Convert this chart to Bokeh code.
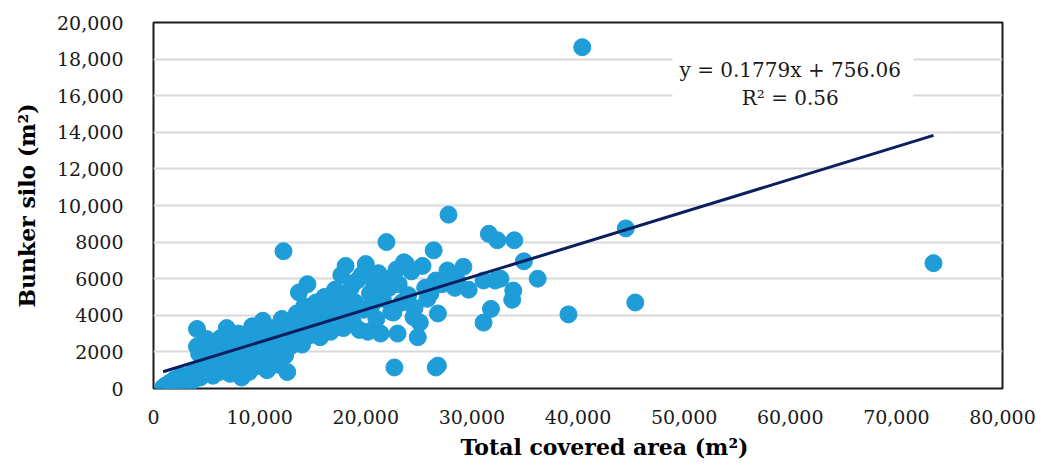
from bokeh.plotting import figure
from bokeh.models import Range1d, FixedTicker, Label, BoxAnnotation, Title
from bokeh.embed import file_html
from bokeh.resources import INLINE

# ---- data ----
total_area = [
    900, 1100, 1500, 1800, 2000, 2300, 2600, 2900, 3100, 3300, 3500, 3700, 3900, 4100, 4100,
    4300, 4400, 4600, 4800, 5000, 5000,
    5200, 5400, 5600, 5800, 6000, 6200, 6300, 6500, 6700, 6900, 7000, 7200, 7400, 7600, 7800,
    8000, 8100, 8300, 8500, 8600, 8800, 9000, 9100, 9300, 9400, 9600, 9800, 9900, 10000,
    10300, 10400, 10500, 10700, 10900, 11100, 11300, 11500, 11700, 11900, 12100, 12250, 12400,
    12600, 12700, 12900, 13100, 13300, 13500, 13700, 13800, 14000, 14200, 14400, 14500, 14700,
    14900, 15100, 15300, 15500, 15700, 15900,
    16100, 16300, 16500, 16700, 16900, 17100, 17300, 17500, 17700, 17900, 18100, 18200, 18400,
    18600, 18800, 19000, 19200, 19400, 19600, 19800, 20000, 20200, 20400, 20600, 20800, 21000,
    21200, 21400, 21600, 21800, 21950,
    22200, 22400, 22600, 22700, 22900, 23000, 23100, 23400, 23600, 23800, 24000, 24300, 24500,
    24600, 24900, 25100, 25350, 25600, 25800, 26100, 26400, 26600, 26600, 26800, 26800, 27200,
    27700, 27800, 28400, 28600, 29200, 29700,
    31100, 31100, 31600, 31800, 32200, 32400, 32700, 33800, 33900, 34000, 34900, 36200, 39100,
    40400, 44500, 45400, 73500,
]
bunker_silo = [
    50, 150, 300, 100, 500, 350, 700, 250, 550, 150, 800, 450, 1000, 3250, 2300,
    1900, 600, 1300, 900, 2700, 1600,
    1100, 2000, 700, 1400, 2300, 900, 2750, 1700, 1200, 3300, 2000, 800, 1500, 2500, 1000,
    3000, 1800, 600, 2200, 1300, 2800, 900, 1600, 3400, 2100, 1200, 2600, 1800, 3100,
    3700, 1400, 2300, 1000, 2900, 1700, 3300, 2100, 1300, 2600, 3800, 7500, 1800,
    900, 3000, 2300, 3500, 2600, 4100, 5250, 3200, 2400, 4500, 3600, 5700, 2900,
    4000, 3300, 4700, 3700, 2800, 4300,
    5000, 3500, 4100, 3100, 4700, 5400, 3800, 4400, 6200, 3300, 6700, 5000, 4100,
    5500, 3600, 4700, 5900, 3200, 6200, 4300, 6800, 3100, 5200, 4600, 5700, 3800,
    6300, 3000, 4900, 6000, 8000,
    5500, 4200, 4150, 1150, 6500, 3000, 5700, 4700, 6900, 6800, 5100, 6400, 3900,
    4400, 2800, 3600, 6700, 5500, 4900, 5200, 7550, 5900, 1150, 4100, 1250, 5700,
    6450, 9500, 5500, 5900, 6650, 5400,
    5900, 3600, 8450, 4350, 5900, 8100, 6000, 4850, 5350, 8100, 6950, 6000, 4050,
    18650, 8750, 4700, 6850,
]

x_ticks = [0, 10000, 20000, 30000, 40000, 50000, 60000, 70000, 80000]
x_tick_labels = ["0", "10,000", "20,000", "30,000", "40,000", "50,000", "60,000", "70,000", "80,000"]
y_ticks = [0, 2000, 4000, 6000, 8000, 10000, 12000, 14000, 16000, 18000, 20000]
y_tick_labels = ["0", "2000", "4000", "6000", "8000", "10,000", "12,000", "14,000", "16,000", "18,000", "20,000"]

slope = 0.1779
intercept = 756.06
r_squared = 0.56

x_title = "Total covered area (m²)"
y_title = "Bunker silo (m²)"

# ---- figure ----
FONT = "DejaVu Serif"
p = figure(width=1053, height=466, output_backend="svg", toolbar_location=None,
           x_range=Range1d(0, 80000), y_range=Range1d(0, 20000),
           min_border_left=153, min_border_right=51, min_border_top=22, min_border_bottom=78)
p.background_fill_color = "white"
p.border_fill_color = "white"
p.outline_line_color = "#1a1a1a"
p.outline_line_width = 2

# grid
p.xgrid.grid_line_color = None
p.ygrid.grid_line_color = "#d9d9d9"
p.ygrid.grid_line_width = 2
p.ygrid.ticker = FixedTicker(ticks=y_ticks)

# axes
p.xaxis.ticker = FixedTicker(ticks=x_ticks)
p.yaxis.ticker = FixedTicker(ticks=y_ticks)
p.xaxis.major_label_overrides = {t: l for t, l in zip(x_ticks, x_tick_labels)}
p.yaxis.major_label_overrides = {t: l for t, l in zip(y_ticks, y_tick_labels)}
for ax in (p.xaxis, p.yaxis):
    ax.axis_line_color = None
    ax.major_tick_line_color = None
    ax.minor_tick_line_color = None
    ax.major_label_text_font = FONT
    ax.major_label_text_font_size = "19px"
    ax.major_label_text_color = "#1a1a1a"
    ax.axis_label_text_font = FONT
    ax.axis_label_text_font_size = "22px"
    ax.axis_label_text_font_style = "bold"
    ax.axis_label_text_color = "#000000"
p.yaxis.axis_label = y_title
p.xaxis.major_label_standoff = 15
p.yaxis.major_label_standoff = 24
p.yaxis.axis_label_standoff = 14

# x-axis title, placed as in the reference (slightly right of the frame centre)
p.add_layout(Title(text=x_title, align="left", offset=307, standoff=10,
                   text_font=FONT, text_font_size="22px", text_font_style="bold",
                   text_color="#000000"), "below")

# points
p.scatter(total_area, bunker_silo, size=17, marker="circle",
          fill_color="#1e9dd8", line_color="#1e9dd8")

# trendline over the data extent
x0, x1 = min(total_area), max(total_area)
p.line([x0, x1], [slope * x0 + intercept, slope * x1 + intercept],
       line_color="#0b1f5e", line_width=3)

# equation box
p.add_layout(BoxAnnotation(left=48900, right=71600, bottom=15100, top=18700,
                           fill_color="white", fill_alpha=1.0, line_color=None))
p.add_layout(Label(x=60000, y=17380, text=f"y = {slope}x + {intercept}",
                   text_align="center", text_baseline="middle",
                   text_font=FONT, text_font_size="20px", text_color="#1a1a1a"))
p.add_layout(Label(x=60000, y=15850, text=f"R² = {r_squared}",
                   text_align="center", text_baseline="middle",
                   text_font=FONT, text_font_size="20px", text_color="#1a1a1a"))

open("out.html", "w").write(file_html(p, INLINE))
